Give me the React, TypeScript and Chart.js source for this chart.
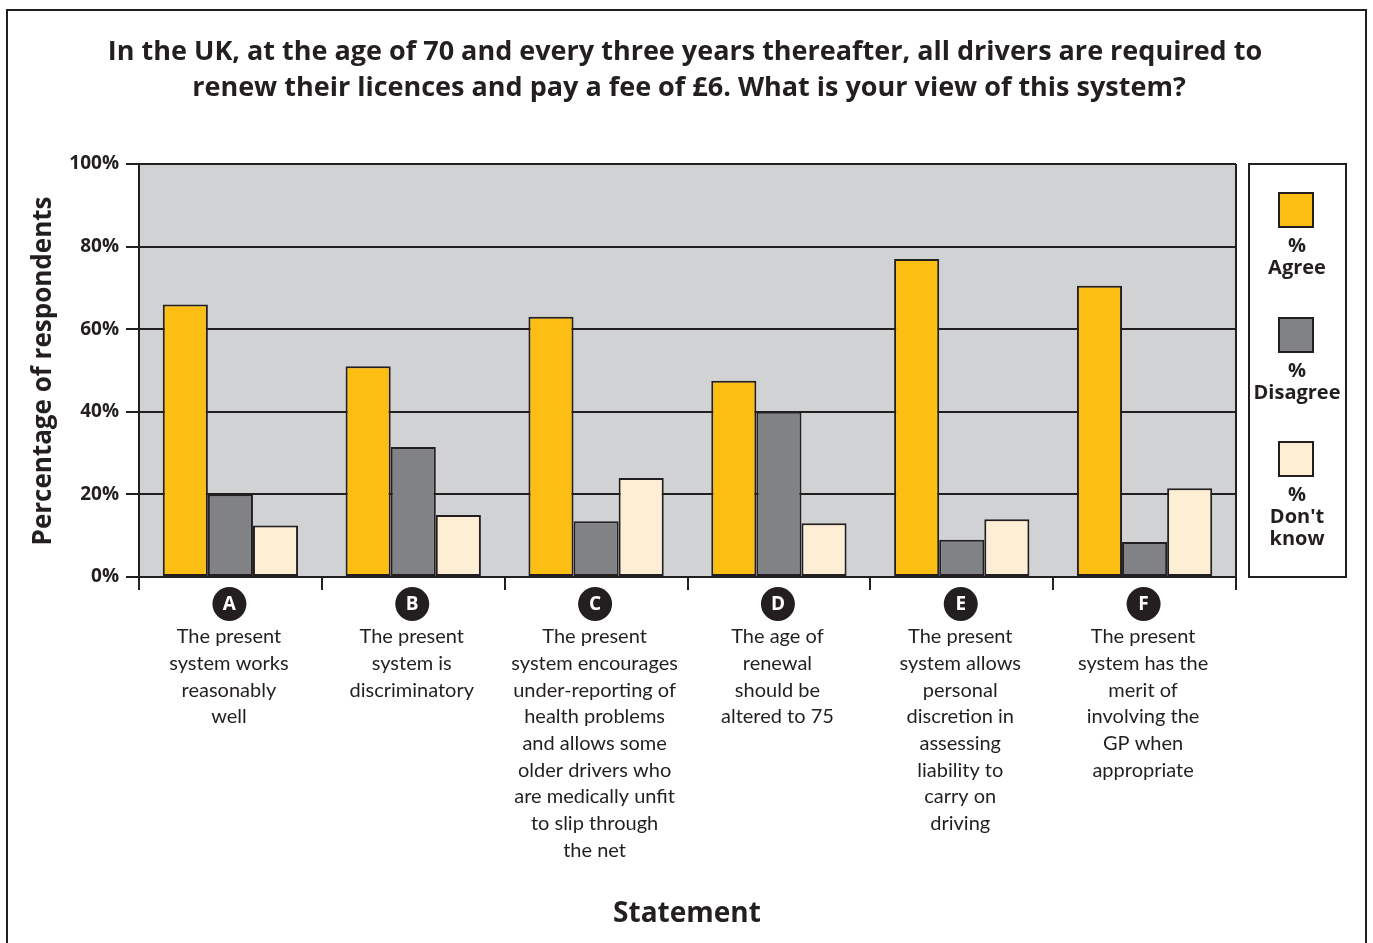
import React, { useEffect, useRef } from "react";
import { Chart, registerables } from "chart.js";

Chart.register(...registerables);

const W = 1373;
const H = 943;

const categories = ["A", "B", "C", "D", "E", "F"];
const statementLines: string[][] = [
  ["The present", "system works", "reasonably", "well"],
  ["The present", "system is", "discriminatory"],
  [
    "The present",
    "system encourages",
    "under-reporting of",
    "health problems",
    "and allows some",
    "older drivers who",
    "are medically unfit",
    "to slip through",
    "the net",
  ],
  ["The age of", "renewal", "should be", "altered to 75"],
  [
    "The present",
    "system allows",
    "personal",
    "discretion in",
    "assessing",
    "liability to",
    "carry on",
    "driving",
  ],
  ["The present", "system has the", "merit of", "involving the", "GP when", "appropriate"],
];

const agree = [66, 51, 63, 47.5, 77, 70.5];
const disagree = [20, 31.5, 13.5, 40, 9, 8.5];
const dontKnow = [12.5, 15, 24, 13, 14, 21.5];

const seriesLabels = ["% Agree", "% Disagree", "% Don't know"];
const legendLines: string[][] = [["%", "Agree"], ["%", "Disagree"], ["%", "Don't", "know"]];

const titleLines = [
  "In the UK, at the age of 70 and every three years thereafter, all drivers are required to",
  "renew their licences and pay a fee of £6. What is your view of this system?",
];
const yAxisTitle = "Percentage of respondents";
const xAxisTitle = "Statement";

const DARK = "#231f20";
const C_AGREE = "#fcbe12";
const C_DIS = "#818285";
const C_DK = "#feeed3";
const C_BG = "#d1d2d4";
const FONT = "Lato, 'Open Sans', sans-serif";
const BFONT = "'Open Sans', Lato, sans-serif";

const decorPlugin = {
  id: "decor",
  beforeDraw(chart: any) {
    const ctx = chart.ctx as CanvasRenderingContext2D;
    const a = chart.chartArea;
    ctx.save();
    ctx.fillStyle = "#ffffff";
    ctx.fillRect(0, 0, W, H);
    ctx.strokeStyle = DARK;
    ctx.lineWidth = 2;
    ctx.strokeRect(7, 10, 1359, H + 20);
    ctx.fillStyle = C_BG;
    ctx.fillRect(a.left, a.top, a.right - a.left, a.bottom - a.top);
    ctx.restore();
  },
  afterDraw(chart: any) {
    const ctx = chart.ctx as CanvasRenderingContext2D;
    const a = chart.chartArea;
    const xs = chart.scales.x;
    ctx.save();
    ctx.strokeStyle = DARK;
    ctx.lineWidth = 2;
    ctx.beginPath();
    ctx.moveTo(a.right, a.top);
    ctx.lineTo(a.right, a.bottom);
    ctx.stroke();

    // title
    ctx.fillStyle = DARK;
    ctx.textAlign = "center";
    ctx.textBaseline = "middle";
    ctx.font = `bold 27px ${BFONT}`;
    ctx.fillText(titleLines[0], 685, 52);
    ctx.fillText(titleLines[1], 689, 88);

    // category markers and labels
    categories.forEach((c, i) => {
      const cx = xs.getPixelForValue(i);
      ctx.fillStyle = DARK;
      ctx.beginPath();
      ctx.arc(cx - 1, 604, 17, 0, Math.PI * 2);
      ctx.fill();
      ctx.fillStyle = "#ffffff";
      ctx.font = `bold 19px ${BFONT}`;
      ctx.fillText(c, cx - 1, 605);
      ctx.fillStyle = DARK;
      ctx.font = `20px ${FONT}`;
      statementLines[i].forEach((line, j) => {
        ctx.fillText(line, cx - 1.5, 637 + j * 26.65);
      });
    });

    // x axis title
    ctx.font = `bold 28px ${BFONT}`;
    ctx.fillText(xAxisTitle, 687, 914);

    // y axis title
    ctx.save();
    ctx.translate(44, 371);
    ctx.rotate(-Math.PI / 2);
    ctx.font = `bold 26px ${BFONT}`;
    ctx.fillText(yAxisTitle, 0, 0);
    ctx.restore();

    // legend
    ctx.fillStyle = "#ffffff";
    ctx.fillRect(1249, 164, 97, 413);
    ctx.strokeStyle = DARK;
    ctx.lineWidth = 2;
    ctx.strokeRect(1249, 164, 97, 413);
    const sq = [193, 318, 442];
    const colors = chart.data.datasets.map((d: any) => d.backgroundColor);
    legendLines.forEach((lines, i) => {
      ctx.fillStyle = colors[i];
      ctx.fillRect(1279, sq[i], 34, 34);
      ctx.strokeStyle = DARK;
      ctx.lineWidth = 2;
      ctx.strokeRect(1279, sq[i], 34, 34);
      ctx.fillStyle = DARK;
      ctx.font = `bold 20px ${BFONT}`;
      lines.forEach((t, j) => {
        ctx.fillText(t, 1297, sq[i] + 53 + j * 22);
      });
    });
    ctx.restore();
  },
};

export default function App() {
  const ref = useRef<HTMLCanvasElement | null>(null);
  useEffect(() => {
    if (!ref.current) return;
    const chart = new Chart(ref.current, {
      type: "bar",
      data: {
        labels: categories,
        datasets: [
          { label: seriesLabels[0], data: agree, backgroundColor: C_AGREE },
          { label: seriesLabels[1], data: disagree, backgroundColor: C_DIS },
          { label: seriesLabels[2], data: dontKnow, backgroundColor: C_DK },
        ].map((d) => ({
          ...d,
          borderColor: DARK,
          borderWidth: 2,
          borderSkipped: false,
          categoryPercentage: 0.74,
          barPercentage: 1,
        })),
      },
      options: {
        responsive: false,
        animation: false,
        devicePixelRatio: 1,
        layout: { padding: { left: 0, top: 164, right: W - 1236, bottom: 0 } },
        plugins: {
          legend: { display: false },
          title: { display: false },
          tooltip: { enabled: false },
        },
        scales: {
          x: {
            offset: true,
            grid: {
              offset: true,
              drawOnChartArea: false,
              drawTicks: true,
              tickLength: 13,
              color: DARK,
              lineWidth: 2,
            },
            border: { display: true, color: DARK, width: 2 },
            ticks: { display: false },
            afterFit: (s: any) => {
              s.height = H - 577;
            },
          },
          y: {
            min: 0,
            max: 100,
            ticks: {
              stepSize: 20,
              callback: (v: any) => `${v}%`,
              color: DARK,
              font: { family: BFONT, size: 19, weight: "bold" },
              padding: 7,
            },
            grid: {
              color: DARK,
              lineWidth: 2,
              drawTicks: true,
              tickLength: 13,
            },
            border: { display: true, color: DARK, width: 2 },
            afterFit: (s: any) => {
              s.width = 139;
            },
          },
        },
      } as any,
      plugins: [decorPlugin],
    });
    return () => chart.destroy();
  }, []);
  return (
    <div style={{ position: "absolute", left: 0, top: 0, width: W, height: H }}>
      <canvas ref={ref} width={W} height={H} style={{ display: "block", width: W, height: H }} />
    </div>
  );
}
